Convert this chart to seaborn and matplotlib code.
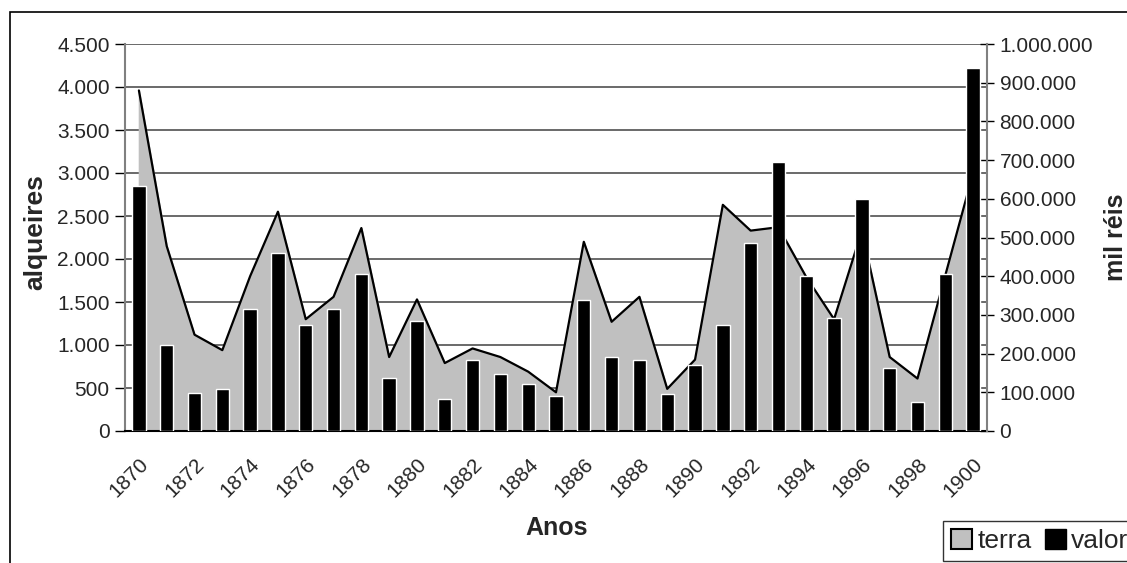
import numpy as np
import pandas as pd
import matplotlib
matplotlib.use('Agg')
import matplotlib.pyplot as plt
import matplotlib.patches as mpatches
import matplotlib.transforms as mtransforms
from matplotlib.ticker import FuncFormatter, FixedLocator
import seaborn as sns

anos = list(range(1870, 1901))
terra = [3960, 2150, 1120, 940, 1800, 2550, 1300, 1560, 2360, 860,
         1530, 790, 960, 860, 690, 450, 2200, 1270, 1560, 490,
         830, 2630, 2330, 2370, 1790, 1300, 2330, 860, 610, 1810, 3000]
valor = [633000, 222000, 99000, 108000, 316000, 461000, 274000, 314000, 406000, 136000,
         284000, 83000, 183000, 146000, 121000, 91000, 338000, 192000, 183000, 95000,
         171000, 275000, 487000, 694000, 401000, 291000, 600000, 162000, 76000, 405000, 939000]

sns.set_style('white')
plt.rcParams['font.family'] = ['Liberation Sans', 'DejaVu Sans']

df = pd.DataFrame({'ano': anos, 'terra': terra, 'valor': valor})
pos = np.arange(len(anos))

fig = plt.figure(figsize=(11.27, 5.63), dpi=100)
ax = fig.add_axes([125/1127, 1-431/563, 862/1127, 387/563])
ax2 = ax.twinx()

# area (terra) on the left axis
ax.fill_between(pos, df['terra'], color='#c0c0c0', zorder=2)
sns.lineplot(x=pos, y=df['terra'].values, color='black', lw=1.6, ax=ax, zorder=3)

# bars (valor) on the right axis
sns.barplot(data=df, x='ano', y='valor', color='black', width=0.48,
            saturation=1, ax=ax2, zorder=3)

ax.set_xlim(-0.5, len(anos) - 0.5)
ax2.set_xlim(-0.5, len(anos) - 0.5)
ax.set_ylim(0, 4500)
ax2.set_ylim(0, 1000000)

fmt = FuncFormatter(lambda v, p: f'{int(v):,}'.replace(',', '.'))
ax.yaxis.set_major_locator(FixedLocator(np.arange(0, 4501, 500)))
ax.yaxis.set_major_formatter(fmt)
ax2.yaxis.set_major_locator(FixedLocator(np.arange(0, 1000001, 100000)))
ax2.yaxis.set_major_formatter(fmt)

ax.grid(axis='y', color='#505050', lw=1.2, zorder=0)
ax.set_axisbelow(True)

# x ticks: labels every 2 years, tick marks between categories
ax.xaxis.set_major_locator(FixedLocator(pos[::2]))
ax.set_xticklabels([str(a) for a in anos[::2]], rotation=45, ha='right', va='top',
                   rotation_mode='anchor', fontsize=15)
shift = mtransforms.ScaledTranslation(-0.11, 0, fig.dpi_scale_trans)
for lbl in ax.get_xticklabels():
    lbl.set_transform(lbl.get_transform() + shift)
ax.xaxis.set_minor_locator(FixedLocator(np.arange(-0.5, len(anos), 1)))
ax.tick_params(axis='x', which='major', length=0, pad=17)
ax.tick_params(axis='x', which='minor', length=10, direction='inout', color='black', width=1)
ax.tick_params(axis='y', which='major', length=7, direction='out', color='black',
               width=1, labelsize=15, pad=4)
ax2.tick_params(axis='y', which='major', length=10, direction='inout', color='black',
                width=1, labelsize=15, pad=4)

for s in ['top', 'right']:
    ax.spines[s].set_visible(False)
ax.spines['left'].set_color('#808080')
ax.spines['left'].set_linewidth(1.5)
ax.spines['bottom'].set_color('black')
ax.spines['bottom'].set_linewidth(1.5)
for s in ['top', 'left', 'bottom']:
    ax2.spines[s].set_visible(False)
ax2.spines['right'].set_color('#808080')
ax2.spines['right'].set_linewidth(1.5)

ax.set_xlabel('')
ax2.set_xlabel('')
ax.set_ylabel('')
ax2.set_ylabel('')
fig.text(35/1127, 1-232/563, 'alqueires', rotation=90, ha='center', va='center',
         fontsize=19, fontweight='bold')
fig.text(1116/1127, 1-237/563, 'mil réis', rotation=90, ha='center', va='center',
         fontsize=18, fontweight='bold')
fig.text(557/1127, 1-528/563, 'Anos', ha='center', va='center',
         fontsize=18, fontweight='bold')

handles = [mpatches.Patch(facecolor='#c0c0c0', edgecolor='black', lw=1.5, label='terra'),
           mpatches.Patch(facecolor='black', edgecolor='black', label='valor')]
leg = fig.legend(handles=handles, loc='lower left', ncol=2,
                 bbox_to_anchor=(943/1127, 1-561/563), fontsize=19, frameon=True,
                 fancybox=False, edgecolor='black', handlelength=0.8, handleheight=0.8,
                 handletextpad=0.2, columnspacing=0.5, borderpad=0.3, borderaxespad=0)
leg.get_frame().set_linewidth(1)

fig.patches.append(mpatches.Rectangle((10/1127, -0.1), 1.2, 1-12/563+0.1,
                                      transform=fig.transFigure, fill=False,
                                      edgecolor='black', lw=1.2))

fig.savefig('out.png', dpi=100)
